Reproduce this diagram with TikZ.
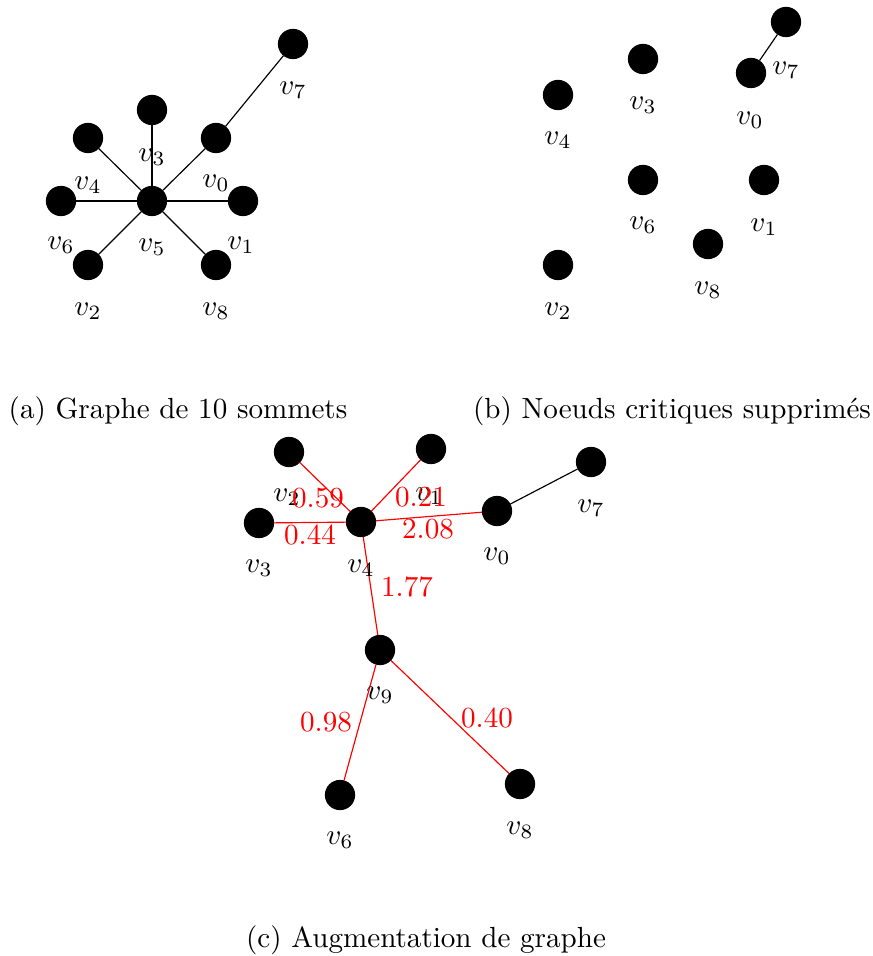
\documentclass[tikz,border=0pt]{standalone}
\begin{document}
\begin{tikzpicture}[x=0.3435pt,y=-0.3435pt,
  vtx/.style={circle,fill=black,draw=black,inner sep=0pt,minimum size=10pt},
  lbl/.style={inner sep=0pt,font=\normalsize},
  wl/.style={inner sep=0pt,text=red},
  re/.style={draw=red,line width=0.4pt},
  be/.style={draw=black,line width=0.4pt}]
\useasboundingbox (0,0) rectangle (872,956);
% ---------- panel a
\node[vtx] (a5) at (152,201) {};
\node[vtx] (a3) at (152,110) {};
\node[vtx] (a4) at (88,138) {};
\node[vtx] (a0) at (216,138) {};
\node[vtx] (a6) at (61,201) {};
\node[vtx] (a1) at (243,201) {};
\node[vtx] (a2) at (88,265) {};
\node[vtx] (a8) at (216,265) {};
\node[vtx] (a7) at (293,44) {};
\foreach \n in {a3,a4,a0,a6,a1,a2,a8} {\draw[be] (a5) -- (\n);}
\draw[be] (a0) -- (a7);
\node[lbl] (la7) at (293,90) {$v_7$};
\node[lbl] (la3) at (152,157) {$v_3$};
\node[lbl] (la4) at (88,185) {$v_4$};
\node[lbl] (la0) at (216,183) {$v_0$};
\node[lbl] (la6) at (61,245) {$v_6$};
\node[lbl] (la5) at (152,247) {$v_5$};
\node[lbl] (la1) at (241,245) {$v_1$};
\node[lbl] (la2) at (88,311) {$v_2$};
\node[lbl] (la8) at (216,311) {$v_8$};
\node (capa) at (178,411) {(a) Graphe de 10 sommets};
% ---------- panel b
\node[vtx] (b7) at (786,22) {};
\node[vtx] (b0) at (751,73) {};
\node[vtx] (b3) at (643,59) {};
\node[vtx] (b4) at (558,95) {};
\node[vtx] (b6) at (643,180) {};
\node[vtx] (b1) at (764,180) {};
\node[vtx] (b8) at (708,244) {};
\node[vtx] (b2) at (558,265) {};
\draw[be] (b0) -- (b7);
\node[lbl] (lb7) at (786,70) {$v_7$};
\node[lbl] (lb0) at (750,120) {$v_0$};
\node[lbl] (lb3) at (643,105) {$v_3$};
\node[lbl] (lb4) at (558,140) {$v_4$};
\node[lbl] (lb6) at (643,225) {$v_6$};
\node[lbl] (lb1) at (764,227) {$v_1$};
\node[lbl] (lb8) at (708,290) {$v_8$};
\node[lbl] (lb2) at (558,311) {$v_2$};
\node (capb) at (672,411) {(b) Noeuds critiques supprimés};
% ---------- panel c
\node[vtx] (c2) at (289,452) {};
\node[vtx] (c1) at (431,449) {};
\node[vtx] (c3) at (259,523) {};
\node[vtx] (c4) at (361,522) {};
\node[vtx] (c0) at (497,511) {};
\node[vtx] (c7) at (591,462) {};
\node[vtx] (c9) at (380,650) {};
\node[vtx] (c6) at (340,795) {};
\node[vtx] (c8) at (520,784) {};
\draw[be] (c0) -- (c7);
\draw[re] (c2) -- (c4);
\draw[re] (c1) -- (c4);
\draw[re] (c3) -- (c4);
\draw[re] (c4) -- (c0);
\draw[re] (c4) -- (c9);
\draw[re] (c9) -- (c6);
\draw[re] (c9) -- (c8);
\node[lbl] (lc2) at (287,497) {$v_2$};
\node[lbl] (lc1) at (429,496) {$v_1$};
\node[lbl] (lc3) at (259,568) {$v_3$};
\node[lbl] (lc4) at (361,568) {$v_4$};
\node[lbl] (lc0) at (497,556) {$v_0$};
\node[lbl] (lc7) at (591,508) {$v_7$};
\node[lbl] (lc9) at (380,695) {$v_9$};
\node[lbl] (lc6) at (340,840) {$v_6$};
\node[lbl] (lc8) at (520,830) {$v_8$};
\node[wl] (w24) at (318,498) {0.59};
\node[wl] (w14) at (421,497) {0.21};
\node[wl] (w34) at (310,535) {0.44};
\node[wl] (w40) at (428,529) {2.08};
\node[wl] (w49) at (407,587) {1.77};
\node[wl] (w96) at (326,722) {0.98};
\node[wl] (w98) at (487,718) {0.40};
\node (capc) at (426,940) {(c) Augmentation de graphe};
\end{tikzpicture}
\end{document}
